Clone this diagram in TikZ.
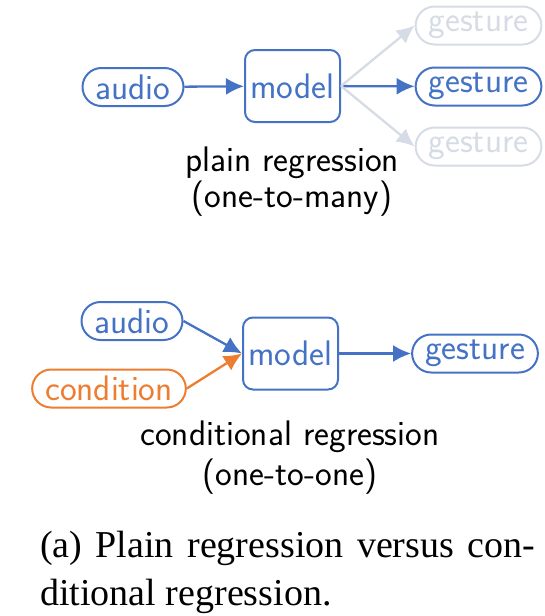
\documentclass[tikz,border=0pt]{standalone}
\usepackage{fontspec}
\setmainfont{Liberation Serif}
\definecolor{regblue}{HTML}{4472C4}
\definecolor{regorange}{HTML}{ED7D31}
\definecolor{reggray}{HTML}{D6DCE5}
\usepackage{tikz}
\usetikzlibrary{
    arrows.meta,
    positioning
}
\tikzstyle{data} = [
    draw=regblue,
    text=regblue,
    line width=2pt,
    rounded corners=19pt,
    minimum height=38pt,
    inner xsep=13pt,
    font=\sffamily\fontsize{35.5}{40}\selectfont
]
\tikzstyle{model} = [
    draw=regblue,
    text=regblue,
    line width=2pt,
    rounded corners=10pt,
    minimum width=95pt,
    minimum height=72pt,
    inner xsep=4pt,
    font=\sffamily\fontsize{35.5}{40}\selectfont
]
\tikzstyle{label} = [
    font=\sffamily\fontsize{35.5}{40}\selectfont
]
\tikzstyle{arrow} = [
    -{Latex[length=18pt,width=17pt]},
    line width=2.3pt,
    draw=regblue
]

\begin{document}
\begin{tikzpicture}[x=1pt, y=-1pt]
        \useasboundingbox (0,0) rectangle (545,616);

        % Plain regression
        \node[data] (audio) at (133,87) {audio};
        \node[model] (model) at (292.5,86) {model};
        \node[data] (gesture) at (478.5,86.5) {gesture};
        \node[data, draw=reggray, text=reggray] (gestureup) at (478.5,25.5) {gesture};
        \node[data, draw=reggray, text=reggray] (gesturedown) at (478.5,146.5) {gesture};
        \draw[arrow] (audio) -- (model);
        \draw[arrow] (model) -- (gesture);
        \draw[arrow, draw=reggray] (model.east) -- (gestureup.west);
        \draw[arrow, draw=reggray] (model.east) -- (gesturedown.west);
        \node[label] (plain) at (292,163) {plain regression};
        \node[label] (plainsub) at (292,199) {(one-to-many)};

        % Conditional regression
        \node[data] (caudio) at (132,321) {audio};
        \node[data, draw=regorange, text=regorange] (cond) at (109,388.5) {condition};
        \node[model] (cmodel) at (290.5,353.5) {model};
        \node[data] (cgesture) at (475,353.5) {gesture};
        \draw[arrow] (caudio.east) -- (cmodel.west);
        \draw[arrow, draw=regorange] (cond.east) -- (cmodel.west);
        \draw[arrow] (cmodel) -- (cgesture);
        \node[label] (cnd) at (290,437) {conditional regression};
        \node[label] (cndsub) at (290,477) {(one-to-one)};

        % Caption
        \node[anchor=north west, inner sep=0pt, text width=495pt, align=justify] (caption) at (40,531)
            {\fontsize{38}{48}\selectfont (a) Plain regression versus con-\linebreak ditional regression.\par};
    \end{tikzpicture}
\end{document}
